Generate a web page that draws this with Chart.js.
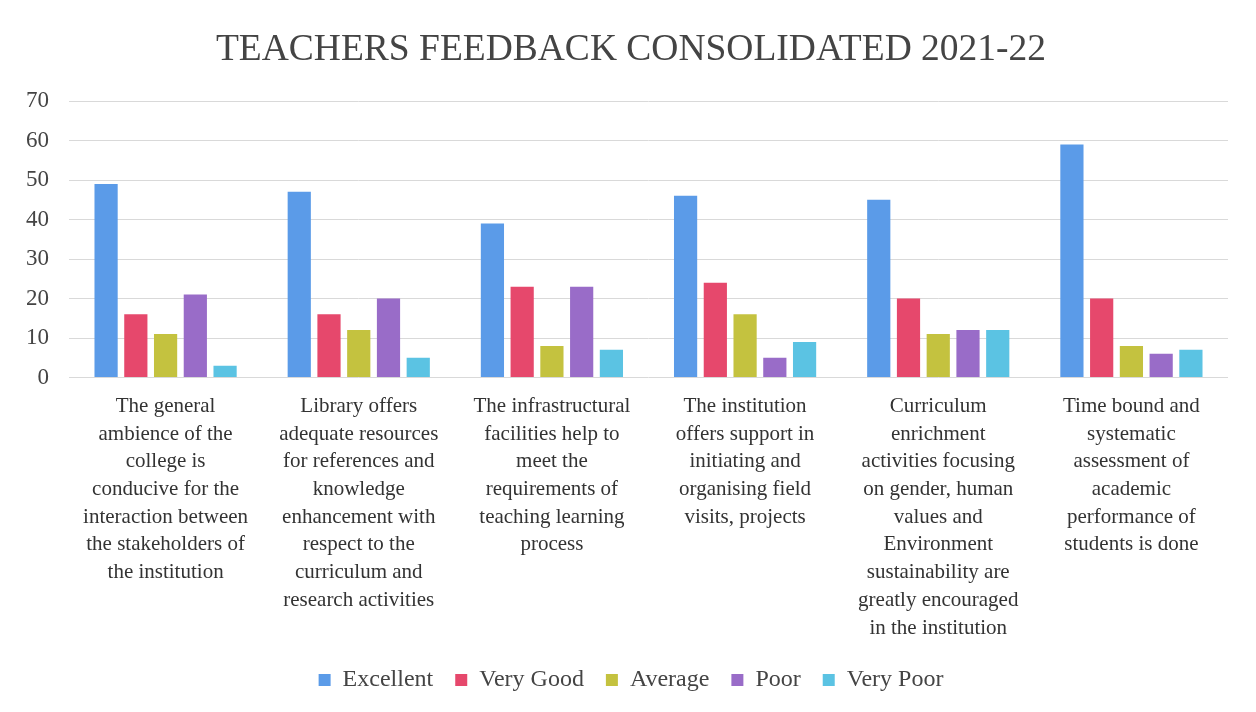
<!DOCTYPE html>
<html>
<head>
<meta charset="utf-8">
<script src="https://cdn.jsdelivr.net/npm/chart.js@4.4.0/dist/chart.umd.min.js"></script>
<style>
html,body{margin:0;padding:0;background:#fff;}
#wrap{position:relative;width:1256px;height:712px;}
</style>
</head>
<body>
<div id="wrap"><canvas id="c" width="1256" height="712"></canvas></div>
<script>
const categories = [
  ["The general","ambience of the","college is","conducive for the","interaction between","the stakeholders of","the institution"],
  ["Library offers","adequate resources","for references and","knowledge","enhancement with","respect to the","curriculum and","research activities"],
  ["The infrastructural","facilities help to","meet the","requirements of","teaching learning","process"],
  ["The institution","offers support in","initiating and","organising field","visits, projects"],
  ["Curriculum","enrichment","activities focusing","on gender, human","values and","Environment","sustainability are","greatly encouraged","in the institution"],
  ["Time bound and","systematic","assessment of","academic","performance of","students is done"]
];
const seriesNames = ["Excellent","Very Good","Average","Poor","Very Poor"];
const excellent = [49, 47, 39, 46, 45, 59];
const veryGood  = [16, 16, 23, 24, 20, 20];
const average   = [11, 12, 8, 16, 11, 8];
const poor      = [21, 20, 23, 5, 12, 6];
const veryPoor  = [3, 5, 7, 9, 12, 7];
const yTicks = [0,10,20,30,40,50,60,70];
const colors = ["#5b9be8","#e6486c","#c4c23f","#996cc8","#5bc3e3"];

const seriesData = [excellent, veryGood, average, poor, veryPoor];
const serif = "'Liberation Serif','DejaVu Serif',serif";

new Chart(document.getElementById('c'), {
  type: 'bar',
  data: {
    labels: categories,
    datasets: seriesNames.map((n,i)=>({
      label: n,
      data: seriesData[i],
      backgroundColor: colors[i],
      borderWidth: 0,
      barPercentage: 0.78,
      categoryPercentage: 0.77
    }))
  },
  options: {
    responsive: false,
    animation: false,
    layout: { padding: { left: 34, right: 28, top: 22, bottom: 10 } },
    plugins: {
      title: {
        display: true,
        text: 'TEACHERS FEEDBACK CONSOLIDATED 2021-22',
        color: '#444',
        font: { family: serif, size: 37.5, weight: 'normal' },
        padding: { top: 6, bottom: 28 }
      },
      legend: {
        position: 'bottom',
        labels: {
          color: '#444',
          font: { family: serif, size: 24 },
          boxWidth: 12, boxHeight: 12,
          padding: 22
        }
      },
      tooltip: { enabled: false }
    },
    scales: {
      x: {
        grid: { display: false, drawTicks: false },
        border: { display: false },
        ticks: {
          color: '#333',
          font: { family: serif, size: 21, lineHeight: 1.32 },
          maxRotation: 0, minRotation: 0, autoSkip: false,
          padding: 15
        },
        afterFit: (ax)=>{ ax.height -= 11; }
      },
      y: {
        min: 0, max: 70,
        afterBuildTicks: (ax)=>{ ax.ticks = yTicks.map(v=>({value:v})); },
        afterFit: (ax)=>{ ax.width -= 28; ax._computeLabelArea = () => undefined; },
        grid: { color: '#d9d9d9', drawTicks: false },
        border: { display: false },
        ticks: {
          color: '#444',
          font: { family: serif, size: 23 },
          padding: 20
        }
      }
    }
  }
});
</script>
</body>
</html>
